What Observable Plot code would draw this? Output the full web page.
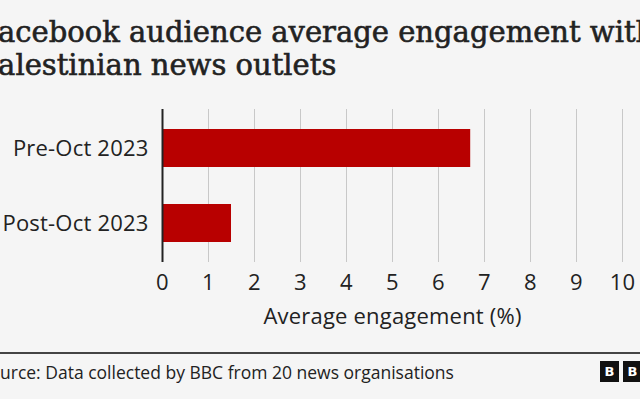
<!DOCTYPE html>
<html><head><meta charset="utf-8">
<script src="https://cdn.jsdelivr.net/npm/d3@7"></script>
<script src="https://cdn.jsdelivr.net/npm/@observablehq/plot@0.6"></script>
<style>
html,body{margin:0;padding:0;background:#f5f5f5;width:640px;height:399px;overflow:hidden;}
body{position:relative;}
#title{position:absolute;top:16px;font-family:"DejaVu Serif";font-size:29px;line-height:33px;color:#222;white-space:nowrap;-webkit-text-stroke:0.6px #222;}
#chart{position:absolute;left:0;top:0;}
#rule{position:absolute;left:0;top:352px;width:640px;height:1.5px;background:#444;}
#source{position:absolute;top:360px;font-family:"Open Sans";font-size:17.5px;line-height:24px;color:#222;white-space:nowrap;}
.bbc{position:absolute;top:361px;width:19px;height:21px;background:#111;color:#fff;font-family:"DejaVu Sans";font-weight:bold;font-size:13px;line-height:21px;text-align:center;}
#chart svg text{letter-spacing:0.2px;}
</style></head><body>
<div id="title"></div>
<div id="chart"></div>
<div id="rule"></div>
<div id="source"></div>
<div class="bbc" style="left:600px">B</div>
<div class="bbc" style="left:623px">B</div>
<div class="bbc" style="left:646px">C</div>
<script>
const titleLines = ["Facebook audience average engagement with", "Palestinian news outlets"];
const categories = ["Pre-Oct 2023", "Post-Oct 2023"];
const values = [6.7, 1.5];
const xTicks = [0, 1, 2, 3, 4, 5, 6, 7, 8, 9, 10];
const xLabel = "Average engagement (%)";
const sourceText = "Source: Data collected by BBC from 20 news organisations";

const data = categories.map((c, i) => ({category: c, value: values[i]}));

function measure(text, font) {
  const ctx = document.createElement("canvas").getContext("2d");
  ctx.font = font;
  return ctx.measureText(text).width;
}

const titleEl = document.getElementById("title");
titleEl.innerHTML = titleLines.join("<br>");
titleEl.style.left = (-measure("F", '29px "DejaVu Serif"')) + "px";

const srcEl = document.getElementById("source");
srcEl.textContent = sourceText;
srcEl.style.left = (-measure("So", '17.5px "Open Sans"')) + "px";

const chart = Plot.plot({
  width: 640,
  height: 340,
  marginTop: 109,
  marginBottom: 78,
  marginLeft: 162,
  marginRight: 18,
  style: {background: "transparent", fontFamily: "Open Sans", fontSize: "22px", color: "#222"},
  x: {domain: [0, 10]},
  y: {domain: categories, paddingInner: 0.49, paddingOuter: 0.255},
  marks: [
    Plot.gridX(xTicks, {stroke: "#c8c8c8", strokeOpacity: 1, strokeWidth: 1}),
    Plot.barX(data, {x: "value", y: "category", fill: "#b80000"}),
    Plot.ruleX([0], {stroke: "#222", strokeWidth: 2}),
    Plot.axisX({ticks: xTicks, tickSize: 0, tickPadding: 12, label: xLabel, labelAnchor: "center", labelArrow: "none", labelOffset: 61}),
    Plot.axisY({tickSize: 0, tickPadding: 14, label: null})
  ]
});
document.getElementById("chart").appendChild(chart);
</script>
</body></html>
